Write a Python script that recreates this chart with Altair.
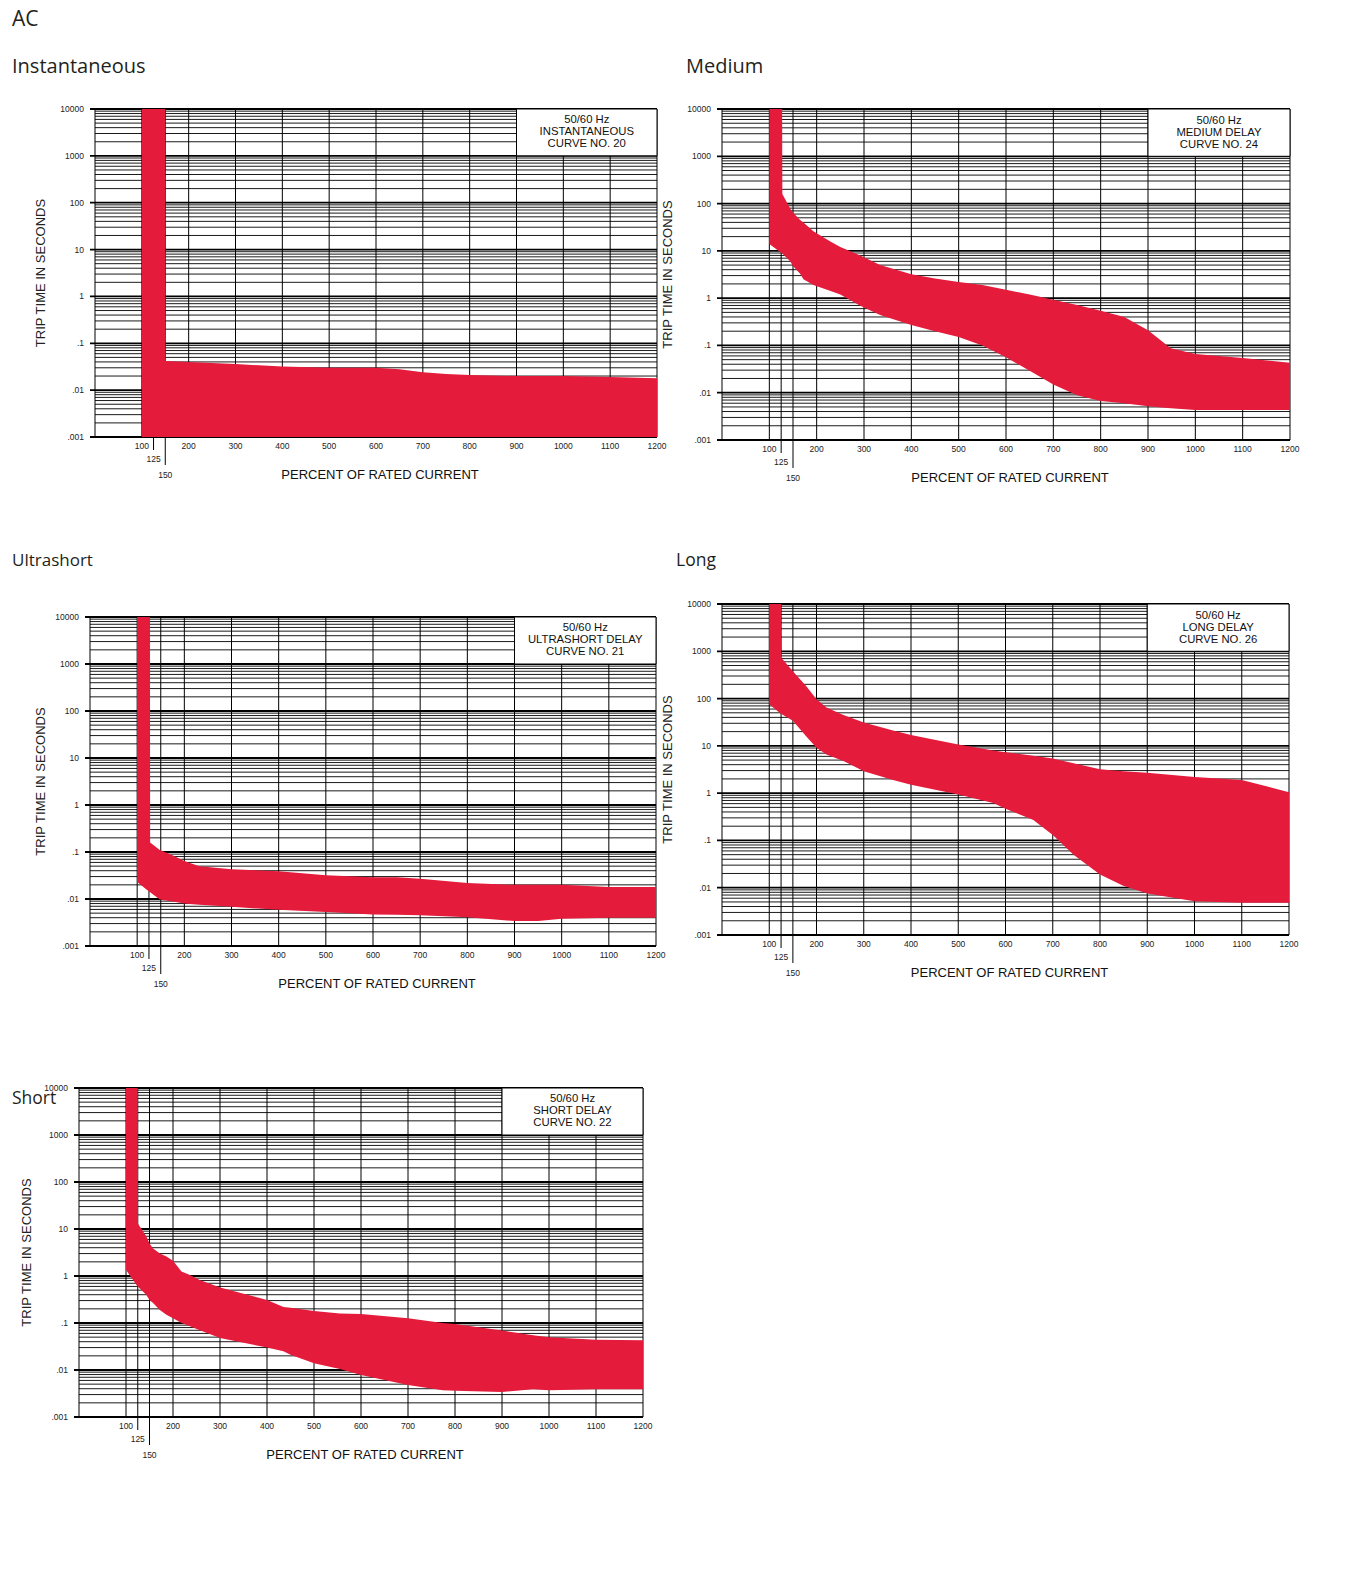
import altair as alt
import pandas as pd

RED = "#E41B3A"
LF = "Liberation Sans"
TF = "Open Sans"

X_TICKS = [100, 200, 300, 400, 500, 600, 700, 800, 900, 1000, 1100, 1200]
X_LABELS = [str(v) for v in X_TICKS]
Y_DECADES = [0.001, 0.01, 0.1, 1, 10, 100, 1000, 10000]
Y_LABELS = [".001", ".01", ".1", "1", "10", "100", "1000", "10000"]
Y_MINOR = [m * d for d in Y_DECADES[:-1] for m in range(2, 10)]
V_LINES = [0] + X_TICKS

# ---- Instantaneous (curve 20)
inst_x = [100, 150, 150.5, 200, 300, 400, 500, 600, 650, 700, 750, 800, 900, 1000, 1100, 1200]
inst_up = [10000, 10000, 0.042, 0.040, 0.036, 0.032, 0.030, 0.030, 0.028, 0.024, 0.022, 0.021, 0.020, 0.020, 0.019, 0.018]
inst_lo = [0.001] * 16

# ---- Medium delay (curve 24)
med_x = [100, 127, 127.5, 144, 150, 165, 172, 193, 228, 250, 292, 334, 400, 450, 500, 550, 600, 650, 700, 750, 800, 850, 900, 948, 1000, 1100, 1200]
med_up = [10000, 10000, 160, 79, 65, 45, 40, 26, 16, 12, 8, 5, 3.2, 2.6, 2.2, 1.9, 1.5, 1.2, 0.93, 0.72, 0.54, 0.40, 0.21, 0.087, 0.066, 0.054, 0.043]
med_lo = [14, 8.8, 8.8, 6.0, 4.8, 3.3, 2.5, 1.9, 1.43, 1.2, 0.69, 0.44, 0.27, 0.20, 0.15, 0.10, 0.056, 0.029, 0.015, 0.0088, 0.0067, 0.006, 0.0052, 0.0047, 0.0043, 0.0043, 0.0043]

# ---- Ultrashort delay (curve 21)
ult_x = [100, 127, 127.5, 148, 175, 200, 232, 300, 400, 500, 600, 650, 700, 800, 900, 950, 1000, 1100, 1200]
ult_up = [10000, 10000, 0.16, 0.11, 0.085, 0.064, 0.050, 0.043, 0.039, 0.032, 0.029, 0.029, 0.027, 0.022, 0.020, 0.020, 0.020, 0.018, 0.018]
ult_lo = [0.023, 0.014, 0.014, 0.0097, 0.0088, 0.008, 0.0075, 0.0068, 0.0059, 0.0053, 0.0047, 0.0046, 0.0045, 0.0041, 0.0034, 0.0034, 0.0038, 0.004, 0.004]

# ---- Long delay (curve 26)
long_x = [100, 125, 125.5, 150, 178, 200, 221, 257, 300, 362, 400, 500, 574, 600, 659, 700, 744, 800, 849, 900, 1000, 1100, 1152, 1200]
long_up = [10000, 10000, 730, 380, 185, 97, 65, 45, 31, 21, 17, 10.7, 8, 7.3, 6.2, 5.4, 4.3, 3.2, 2.9, 2.7, 2.2, 1.9, 1.4, 1.05]
long_lo = [76, 47, 47, 34, 16, 9.1, 6.6, 4.8, 2.9, 1.9, 1.5, 0.94, 0.62, 0.47, 0.27, 0.13, 0.05, 0.019, 0.011, 0.0075, 0.0052, 0.0048, 0.0048, 0.0048]

# ---- Short delay (curve 22)
sh_x = [100, 125, 125.5, 143, 150, 157, 172, 186, 200, 218, 236, 257, 300, 400, 435, 450, 500, 555, 600, 700, 774, 800, 900, 966, 1000, 1100, 1200]
sh_up = [10000, 10000, 13, 7, 5, 3.9, 3.0, 2.6, 2.1, 1.25, 1.05, 0.82, 0.57, 0.31, 0.22, 0.21, 0.18, 0.16, 0.155, 0.126, 0.10, 0.095, 0.069, 0.055, 0.050, 0.044, 0.043]
sh_lo = [1.35, 0.59, 0.59, 0.40, 0.31, 0.27, 0.19, 0.15, 0.126, 0.10, 0.085, 0.07, 0.048, 0.030, 0.025, 0.021, 0.014, 0.0105, 0.0078, 0.0048, 0.0037, 0.0036, 0.0034, 0.0039, 0.0037, 0.0039, 0.0039]

LEGENDS = {
    "inst": "50/60 Hz\nINSTANTANEOUS\nCURVE NO. 20",
    "med": "50/60 Hz\nMEDIUM DELAY\nCURVE NO. 24",
    "ult": "50/60 Hz\nULTRASHORT DELAY\nCURVE NO. 21",
    "long": "50/60 Hz\nLONG DELAY\nCURVE NO. 26",
    "short": "50/60 Hz\nSHORT DELAY\nCURVE NO. 22",
}

ONE = pd.DataFrame({"a": [0]})


def panel(title, tsize, legend, xs_, ups, los, W, H, tx, ty, ytx, L, T, R, B, extra=None):
    xsc = alt.Scale(domain=[0, 1200], nice=False, zero=False)
    ysc = alt.Scale(type="log", domain=[0.001, 10000], nice=False)

    def X(f):
        return alt.X(f, scale=xsc, axis=None)

    def Y(f):
        return alt.Y(f, scale=ysc, axis=None)

    layers = []
    layers.append(alt.Chart(pd.DataFrame({"v": Y_MINOR})).mark_rule(color="#000000", strokeWidth=0.9)
                  .encode(y=Y("v:Q")))
    layers.append(alt.Chart(pd.DataFrame({"v": Y_DECADES})).mark_rule(color="#000000", strokeWidth=1.8)
                  .encode(x=alt.value(-5), x2=alt.value(W), y=Y("v:Q")))
    layers.append(alt.Chart(pd.DataFrame({"v": V_LINES})).mark_rule(color="#000000", strokeWidth=1)
                  .encode(x=X("v:Q")))
    layers.append(alt.Chart(pd.DataFrame({"v": [125]})).mark_rule(color="#000000", strokeWidth=1)
                  .encode(x=X("v:Q"), y=alt.value(0), y2=alt.value(H + 13)))
    layers.append(alt.Chart(pd.DataFrame({"v": [150]})).mark_rule(color="#000000", strokeWidth=1)
                  .encode(x=X("v:Q"), y=alt.value(0), y2=alt.value(H + 28)))
    # legend box
    layers.append(alt.Chart(pd.DataFrame({"x0": [900], "x1": [1200], "y0": [1000], "y1": [10000]}))
                  .mark_rect(fill="white", stroke="black", strokeWidth=1)
                  .encode(x=X("x0:Q"), x2="x1:Q", y=Y("y0:Q"), y2="y1:Q"))
    layers.append(alt.Chart(pd.DataFrame({"lx": [1050], "ly": [3162.3], "t": [legend]}))
                  .mark_text(font=LF, fontSize=11.3, lineHeight=12, lineBreak="\n", align="center",
                             baseline="middle", dy=-12, color="#111")
                  .encode(x=X("lx:Q"), y=Y("ly:Q"), text="t:N"))
    # red band
    band = pd.DataFrame({"px": xs_, "up": ups, "lo": los})
    layers.append(alt.Chart(band).mark_area(fill=RED, fillOpacity=1, strokeWidth=0, orient="vertical",
                                            interpolate="linear")
                  .encode(x=X("px:Q"), y=Y("up:Q"), y2=alt.Y2("lo:Q")))
    # y labels
    layers.append(alt.Chart(pd.DataFrame({"v": Y_DECADES, "lab": Y_LABELS}))
                  .mark_text(font=LF, fontSize=8.5, align="right", baseline="middle", color="#222")
                  .encode(x=alt.value(-11), y=Y("v:Q"), text="lab:N"))
    # x labels
    layers.append(alt.Chart(pd.DataFrame({"v": X_TICKS, "lab": X_LABELS}))
                  .mark_text(font=LF, fontSize=8.5, align="center", baseline="middle", color="#222")
                  .encode(x=X("v:Q"), y=alt.value(H + 9), text="lab:N"))
    layers.append(alt.Chart(pd.DataFrame({"v": [125], "lab": ["125"]}))
                  .mark_text(font=LF, fontSize=8.5, align="center", baseline="middle", color="#222")
                  .encode(x=X("v:Q"), y=alt.value(H + 22), text="lab:N"))
    layers.append(alt.Chart(pd.DataFrame({"v": [150], "lab": ["150"]}))
                  .mark_text(font=LF, fontSize=8.5, align="center", baseline="middle", color="#222")
                  .encode(x=X("v:Q"), y=alt.value(H + 38), text="lab:N"))
    # axis titles
    layers.append(alt.Chart(ONE).mark_text(font=LF, fontSize=13, angle=270, align="center",
                                           baseline="middle", color="#222")
                  .encode(x=alt.value(ytx), y=alt.value(H / 2), text=alt.value("TRIP TIME IN SECONDS")))
    layers.append(alt.Chart(ONE).mark_text(font=LF, fontSize=13, align="center", baseline="middle", color="#111")
                  .encode(x=alt.value(W / 2 + 4), y=alt.value(H + 37.5), text=alt.value("PERCENT OF RATED CURRENT")))
    # panel title
    layers.append(alt.Chart(ONE).mark_text(font=TF, fontSize=tsize, align="left", baseline="middle", color="#231f20")
                  .encode(x=alt.value(tx), y=alt.value(ty), text=alt.value(title)))
    if extra is not None:
        layers.append(alt.Chart(ONE).mark_text(font=TF, fontSize=21, align="left", baseline="middle", color="#231f20")
                      .encode(x=alt.value(extra[1]), y=alt.value(extra[2]), text=alt.value(extra[0])))
    # layout extent
    layers.append(alt.Chart(ONE).mark_rect(opacity=0)
                  .encode(x=alt.value(-L), x2=alt.value(R), y=alt.value(-T), y2=alt.value(B)))
    return alt.layer(*layers).properties(width=W, height=H)


inst = panel("Instantaneous", 20, LEGENDS["inst"], inst_x, inst_up, inst_lo,
             W=562, H=328, tx=-83, ty=-42, ytx=-54.4, L=83, T=101, R=576, B=380, extra=("AC", -83, -89))
med = panel("Medium", 20, LEGENDS["med"], med_x, med_up, med_lo,
            W=568, H=331, tx=-36, ty=-42, ytx=-54.3, L=61, T=52, R=578, B=380)
ult = panel("Ultrashort", 17, LEGENDS["ult"], ult_x, ult_up, ult_lo,
            W=566, H=329, tx=-78, ty=-56, ytx=-49.4, L=78, T=73, R=576, B=380)
lng = panel("Long", 17.5, LEGENDS["long"], long_x, long_up, long_lo,
            W=567, H=331, tx=-46, ty=-43, ytx=-54.3, L=66, T=60, R=577, B=380)
sht = panel("Short", 17.5, LEGENDS["short"], sh_x, sh_up, sh_lo,
            W=564, H=329, tx=-67, ty=11, ytx=-51.6, L=67, T=36, R=576, B=380)

sp = (alt.Chart(ONE).mark_rect(opacity=0)
      .encode(x=alt.value(0), x2=alt.value(1), y=alt.value(0), y2=alt.value(1))
      .properties(width=1, height=1))

chart = alt.ConcatChart(
    concat=[sp, inst, med, sp, ult, lng, sp, sht],
    columns=3,
    spacing={"row": 55, "column": -10},
    align="none",
    bounds="full",
    padding={"left": 4, "top": 0, "right": 4, "bottom": 4},
).configure_view(stroke=None)

chart.save("out.html", embed_options={"renderer": "svg", "actions": False})
